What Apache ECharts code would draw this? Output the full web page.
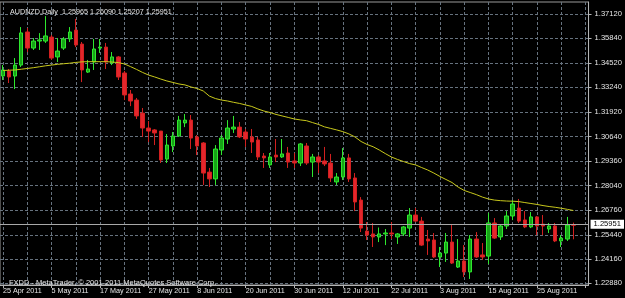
<!DOCTYPE html>
<html><head><meta charset="utf-8">
<script src="https://cdn.jsdelivr.net/npm/echarts@6/dist/echarts.min.js"></script>
<style>html,body{margin:0;padding:0;background:#000;}#c{width:625px;height:298px;}</style>
</head><body><div id="c"></div>
<script>
const categories = ['25 Apr 2011','26 Apr 2011','27 Apr 2011','28 Apr 2011','29 Apr 2011',
'2 May 2011','3 May 2011','4 May 2011','5 May 2011','6 May 2011','9 May 2011','10 May 2011','11 May 2011','12 May 2011','13 May 2011','16 May 2011','17 May 2011','18 May 2011','19 May 2011','20 May 2011','23 May 2011','24 May 2011','25 May 2011','26 May 2011','27 May 2011','30 May 2011','31 May 2011',
'1 Jun 2011','2 Jun 2011','3 Jun 2011','6 Jun 2011','7 Jun 2011','8 Jun 2011','9 Jun 2011','10 Jun 2011','13 Jun 2011','14 Jun 2011','15 Jun 2011','16 Jun 2011','17 Jun 2011','20 Jun 2011','21 Jun 2011','22 Jun 2011','23 Jun 2011','24 Jun 2011','27 Jun 2011','28 Jun 2011','29 Jun 2011','30 Jun 2011',
'1 Jul 2011','4 Jul 2011','5 Jul 2011','6 Jul 2011','7 Jul 2011','8 Jul 2011','11 Jul 2011','12 Jul 2011','13 Jul 2011','14 Jul 2011','15 Jul 2011','18 Jul 2011','19 Jul 2011','20 Jul 2011','21 Jul 2011','22 Jul 2011','25 Jul 2011','26 Jul 2011','27 Jul 2011','28 Jul 2011','29 Jul 2011',
'1 Aug 2011','2 Aug 2011','3 Aug 2011','4 Aug 2011','5 Aug 2011','8 Aug 2011','9 Aug 2011','10 Aug 2011','11 Aug 2011','12 Aug 2011','15 Aug 2011','16 Aug 2011','17 Aug 2011','18 Aug 2011','19 Aug 2011','22 Aug 2011','23 Aug 2011','24 Aug 2011','25 Aug 2011','26 Aug 2011','29 Aug 2011','30 Aug 2011','31 Aug 2011',
'1 Sep 2011','2 Sep 2011'];

const opens = [1.3384,1.3411,1.3384,1.3442,1.3617,1.3532,1.3569,1.3569,1.3590,1.3485,
1.3532,1.3580,1.3627,1.3553,1.3405,1.3458,1.3532,1.3537,1.3453,1.3485,
1.3400,1.3289,1.3257,1.3188,1.3109,1.3099,1.3093,1.2945,1.3014,1.3067,
1.3136,1.3151,1.3062,1.3030,1.2876,1.2840,1.2993,1.3051,1.3104,1.3114,
1.3088,1.3062,1.3046,1.2961,1.2914,1.2966,1.2956,1.2977,1.2935,1.2924,
1.3014,1.2929,1.2956,1.2935,1.2924,1.2824,1.2850,1.2951,1.2845,1.2728,
1.2564,1.2549,1.2533,1.2549,1.2554,1.2533,1.2549,1.2580,1.2649,1.2617,
1.2522,1.2517,1.2427,1.2448,1.2506,1.2374,1.2406,1.2348,1.2522,1.2438,
1.2432,1.2607,1.2533,1.2591,1.2644,1.2686,1.2623,1.2586,1.2639,1.2601,
1.2575,1.2591,1.2512,1.2522,1.25965];
const closes = [1.3416,1.3379,1.3442,1.3612,1.3532,1.3569,1.3575,1.3596,1.3479,1.3516,
1.3580,1.3617,1.3548,1.3416,1.3421,1.3527,1.3537,1.3458,1.3485,1.3379,
1.3284,1.3252,1.3173,1.3109,1.3093,1.3083,1.2940,1.3019,1.3067,1.3151,
1.3151,1.3056,1.3014,1.2871,1.2840,1.2998,1.3056,1.3109,1.3114,1.3062,
1.3051,1.3035,1.2956,1.2951,1.2956,1.2956,1.2972,1.2929,1.2924,1.3025,
1.2924,1.2956,1.2929,1.2919,1.2845,1.2850,1.2951,1.2840,1.2718,1.2580,
1.2543,1.2533,1.2549,1.2554,1.2549,1.2549,1.2586,1.2649,1.2617,1.2490,
1.2512,1.2427,1.2448,1.2506,1.2395,1.2406,1.2348,1.2522,1.2427,1.2427,
1.2607,1.2527,1.2591,1.2644,1.2707,1.2617,1.2586,1.2639,1.2591,1.2591,
1.2591,1.2512,1.2527,1.2596,1.25951];
const lows = [1.3363,1.3347,1.3315,1.3432,1.3511,1.3522,1.3522,1.3559,1.3469,1.3458,
1.3522,1.3564,1.3537,1.3352,1.3400,1.3416,1.3506,1.3421,1.3442,1.3363,
1.3257,1.3225,1.3157,1.3062,1.3035,1.3019,1.2924,1.2924,1.2982,1.3062,
1.3114,1.2998,1.2966,1.2808,1.2797,1.2808,1.2966,1.3025,1.3083,1.3056,
1.3009,1.2977,1.2940,1.2898,1.2898,1.2929,1.2951,1.2898,1.2898,1.2908,
1.2914,1.2850,1.2871,1.2908,1.2824,1.2808,1.2834,1.2824,1.2670,1.2559,
1.2517,1.2480,1.2506,1.2490,1.2522,1.2496,1.2538,1.2533,1.2612,1.2485,
1.2438,1.2422,1.2374,1.2401,1.2390,1.2369,1.2321,1.2311,1.2422,1.2411,
1.2390,1.2522,1.2517,1.2575,1.2622,1.2607,1.2580,1.2580,1.2543,1.2543,
1.2554,1.2506,1.2480,1.2512,1.25207];
const highs = [1.3442,1.3421,1.3479,1.3643,1.3638,1.3585,1.3611,1.3701,1.3601,1.3585,
1.3590,1.3643,1.3686,1.3564,1.3469,1.3580,1.3580,1.3559,1.3511,1.3490,
1.3411,1.3310,1.3268,1.3215,1.3146,1.3104,1.3093,1.3077,1.3088,1.3173,
1.3183,1.3178,1.3072,1.3035,1.2898,1.3019,1.3072,1.3151,1.3173,1.3141,
1.3104,1.3104,1.3062,1.2977,1.2977,1.3051,1.3051,1.3009,1.2977,1.3030,
1.3030,1.2972,1.2966,1.3009,1.2972,1.2871,1.3003,1.2972,1.2871,1.2744,
1.2612,1.2607,1.2583,1.2575,1.2612,1.2554,1.2591,1.2686,1.2686,1.2639,
1.2570,1.2554,1.2480,1.2554,1.2596,1.2522,1.2490,1.2543,1.2559,1.2501,
1.2660,1.2633,1.2596,1.2670,1.2728,1.2734,1.2670,1.2665,1.2644,1.2649,
1.2607,1.2607,1.2543,1.2639,1.26090];
const maValues = [1.3413,1.3415,1.3416,1.3420,1.3424,1.3428,1.3433,1.3438,1.3442,1.3446,
1.3449,1.3452,1.3456,1.3459,1.3460,1.3460,1.3460,1.3460,1.3458,1.3455,
1.3448,1.3434,1.3419,1.3403,1.3389,1.3379,1.3368,1.3358,1.3350,1.3342,
1.3337,1.3326,1.3318,1.3305,1.3278,1.3265,1.3257,1.3252,1.3245,1.3239,
1.3231,1.3223,1.3210,1.3199,1.3191,1.3181,1.3173,1.3165,1.3157,1.3152,
1.3148,1.3138,1.3128,1.3115,1.3107,1.3099,1.3090,1.3078,1.3062,1.3038,
1.3022,1.3010,1.2993,1.2974,1.2956,1.2943,1.2932,1.2921,1.2914,1.2900,
1.2887,1.2871,1.2853,1.2837,1.2821,1.2797,1.2779,1.2768,1.2757,1.2744,
1.2734,1.2728,1.2725,1.2723,1.2722,1.2720,1.2715,1.2710,1.2705,1.2699,
1.2694,1.2690,1.2685,1.2679,1.2673];
const priceTicks = [1.22880,1.24160,1.25440,1.26760,1.28040,1.29360,1.30640,1.31920,1.33240,1.34520,1.35840,1.37120];
const symbolTitle = 'AUDNZD,Daily  1.25965 1.26090 1.25207 1.25951';
const footer = 'FXDD - MetaTrader, \u00A9 2001-2011 MetaQuotes Software Corp.';

const candleData = opens.map((o, i) => [o, closes[i], lows[i], highs[i]]);
const lastClose = closes[closes.length - 1];
const FONT = 'Liberation Sans';
const gridCol = '#66727e';

const chart = echarts.init(document.getElementById('c'), null, {renderer: 'canvas'});
chart.setOption({
  backgroundColor: '#000000',
  animation: false,
  title: [
    {text: symbolTitle, left: 5, top: 4, textStyle: {color: '#e6e6e6', fontSize: 7.2, fontWeight: 'normal', fontFamily: FONT}},
    {text: footer, left: 4, top: 274, textStyle: {color: '#e6e6e6', fontSize: 7.5, fontWeight: 'normal', fontFamily: FONT}}
  ],
  grid: {left: 0, right: 30, top: 2, bottom: 13, show: true, borderColor: '#9a9a9a', borderWidth: 1, backgroundColor: 'transparent'},
  xAxis: {
    type: 'category', data: categories, max: 96, boundaryGap: true,
    axisLine: {show: true, lineStyle: {color: '#b4b4b4', width: 1}},
    axisTick: {show: true, alignWithLabel: true, interval: 7, length: 3, lineStyle: {color: '#b4b4b4'}},
    axisLabel: {show: true, interval: 7, align: 'left', margin: 3, color: '#e6e6e6', fontSize: 7.2, fontFamily: FONT,
      formatter: v => (v == null || v === 'undefined') ? '' : v},
    splitLine: {show: true, interval: 3, alignWithLabel: true, lineStyle: {color: gridCol, type: [3, 2], width: 1}}
  },
  yAxis: {
    type: 'value', position: 'right', min: 1.2279, max: 1.37755, scale: true,
    axisLine: {show: true, lineStyle: {color: '#b4b4b4', width: 1}},
    axisTick: {show: true, length: 3, customValues: priceTicks, lineStyle: {color: '#b4b4b4'}},
    axisLabel: {show: true, customValues: priceTicks, margin: 6, color: '#e6e6e6', fontSize: 7.6, fontFamily: FONT,
      formatter: v => v.toFixed(5)},
    splitLine: {show: true, lineStyle: {color: gridCol, type: [3, 2], width: 1}}
  },
  series: [
    {
      type: 'candlestick', data: candleData, barWidth: 4,
      itemStyle: {color: '#17a317', color0: '#e4262c', borderColor: '#2ee82e', borderColor0: '#d22020', borderWidth: 1},
      markLine: {
        silent: true, symbol: ['none', 'none'], animation: false,
        lineStyle: {color: '#a8a8a8', type: 'solid', width: 1},
        label: {show: true, position: 'end', distance: 2, formatter: () => lastClose.toFixed(5),
          backgroundColor: '#ffffff', color: '#000000', fontSize: 7.6, fontFamily: FONT, padding: [1, 3, 0, 3]},
        data: [{yAxis: lastClose}]
      }
    },
    {
      type: 'line', data: maValues, symbol: 'none', silent: true,
      lineStyle: {color: '#c8c81c', width: 1}
    }
  ]
});
</script></body></html>
